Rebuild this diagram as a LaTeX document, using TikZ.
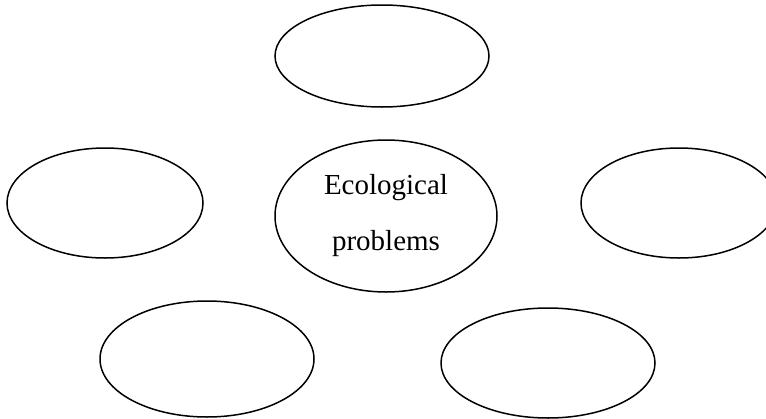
\documentclass[tikz,border=0pt]{standalone}
\usepackage{fontspec}
\setmainfont{Liberation Serif}
\usepackage{tikz}
\usetikzlibrary{shapes,positioning}

\begin{document}
\begin{tikzpicture}[x=0.5pt,y=-0.5pt,
  blase/.style={draw,ellipse,line width=0.75pt,inner sep=0pt}]
\useasboundingbox (0,0) rectangle (766,418);
%Mitte
\node[blase,minimum width=111pt,minimum height=76pt,align=center,
  font=\fontsize{14.5}{28}\selectfont] (mitte) at (386,216) {Ecological\\problems};
%Aeussere Blasen
\node[blase,minimum width=107pt,minimum height=51pt] (oben) at (382,56) {};
\node[blase,minimum width=98pt,minimum height=55pt] (links) at (105,203) {};
\node[blase,minimum width=98pt,minimum height=55pt] (rechts) at (679,203) {};
\node[blase,minimum width=107pt,minimum height=58pt] (untenlinks) at (207,359) {};
\node[blase,minimum width=107pt,minimum height=55pt] (untenrechts) at (548,363) {};
\end{tikzpicture}
\end{document}
